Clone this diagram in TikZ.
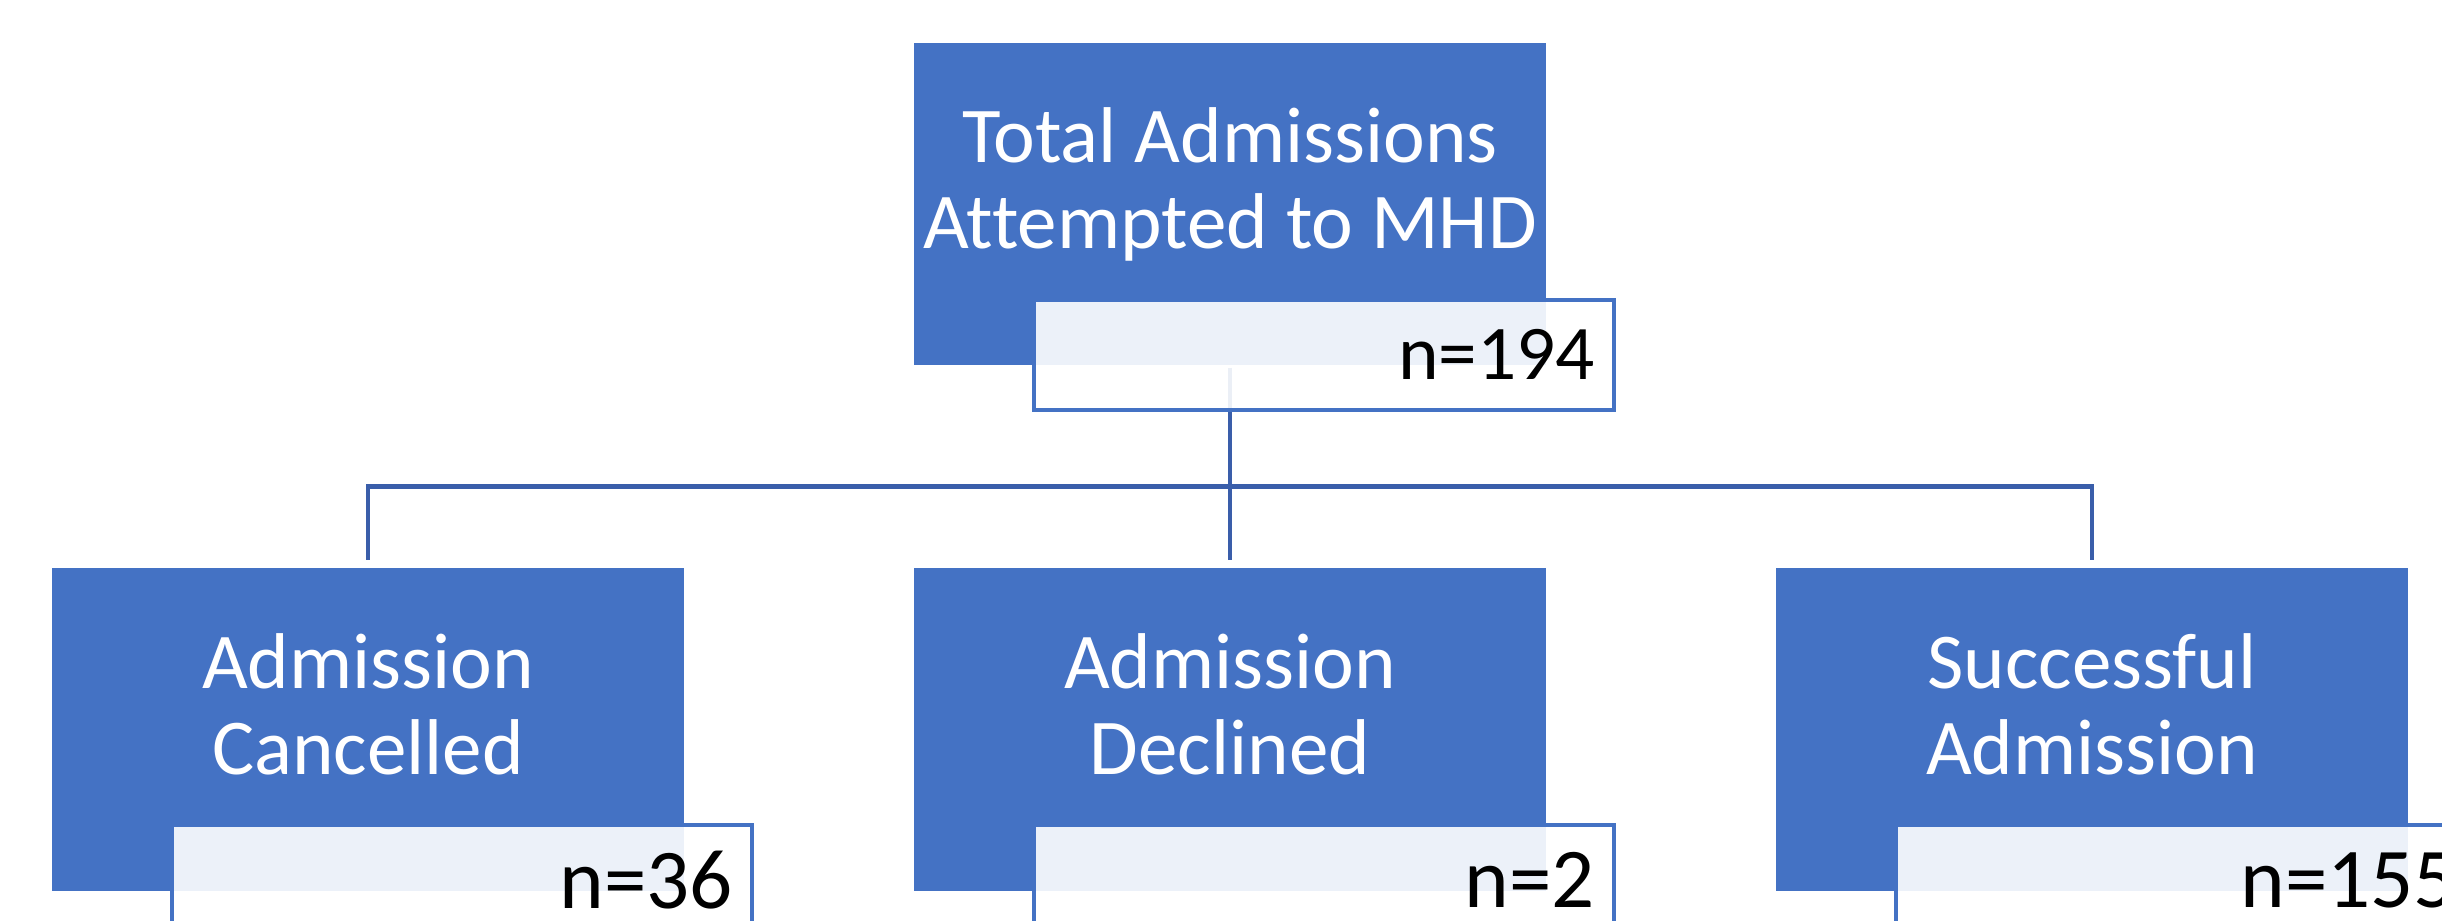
\documentclass[tikz,border=0pt]{standalone}
\usepackage{fontspec}
\setmainfont{Carlito}[Ligatures=NoCommon]
\definecolor{modra}{HTML}{4472C4}
\definecolor{spoj}{HTML}{3A5EAA}

\begin{document}
\begin{tikzpicture}[
        blok/.style={rectangle, fill=modra, draw=white, line width=0.6pt,
            minimum width=6.34cm, minimum height=3.25cm, inner sep=0pt},
        popis/.style={align=center, text=white, inner sep=0pt,
            font=\fontsize{22.5}{24.5}\selectfont},
        pocet/.style={rectangle, draw=modra, line width=1.2pt, fill=white,
            fill opacity=0.9, text opacity=1, anchor=north east,
            minimum height=1.1cm, inner xsep=0.19cm, inner ysep=0pt,
            text width=5.42cm, align=right,
            font=\fontsize{24.2}{28}\selectfont},
        spojnice/.style={draw=spoj, line width=1.4pt}]

        % okraje obrázku
        \useasboundingbox (0,0) rectangle (24.42,-9.21);
        \clip (0,0) rectangle (24.42,-9.21);

        % modré bloky
        \node[blok] (celkem) at (12.30,-2.04) {};
        \node[blok] (zruseno) at (3.68,-7.295) {};
        \node[blok] (odmitnuto) at (12.30,-7.295) {};
        \node[blok] (prijato) at (20.92,-7.295) {};

        % texty v blocích
        \node[popis] (celkem-t) at ([yshift=0.155cm]celkem.center) {Total Admissions\strut\\Attempted to MHD\strut};
        \node[popis] (zruseno-t) at ([yshift=0.155cm]zruseno.center) {Admission\strut\\Cancelled\strut};
        \node[popis] (odmitnuto-t) at ([yshift=0.155cm]odmitnuto.center) {Admission\strut\\Declined\strut};
        \node[popis] (prijato-t) at ([yshift=0.155cm]prijato.center) {Successful\strut\\Admission\strut};

        % spojnice
        \coordinate (rozcesti) at (12.30,-4.865);
        \draw[spojnice] (celkem.south) -- (rozcesti);
        \draw[spojnice] (rozcesti) -| ([yshift=0.06cm]zruseno.north);
        \draw[spojnice] (rozcesti) -- ([yshift=0.06cm]odmitnuto.north);
        \draw[spojnice] (rozcesti) -| ([yshift=0.06cm]prijato.north);

        % počty
        \node[pocet, font=\fontsize{22}{26}\selectfont] (celkem-n) at ([xshift=0.68cm,yshift=0.70cm]celkem.south east) {n=194};
        \node[pocet] (zruseno-n) at ([xshift=0.68cm,yshift=0.70cm]zruseno.south east) {n=36};
        \node[pocet] (odmitnuto-n) at ([xshift=0.68cm,yshift=0.70cm]odmitnuto.south east) {n=2};
        \node[pocet] (prijato-n) at ([xshift=0.68cm,yshift=0.70cm]prijato.south east) {n=155};

    \end{tikzpicture}
\end{document}
